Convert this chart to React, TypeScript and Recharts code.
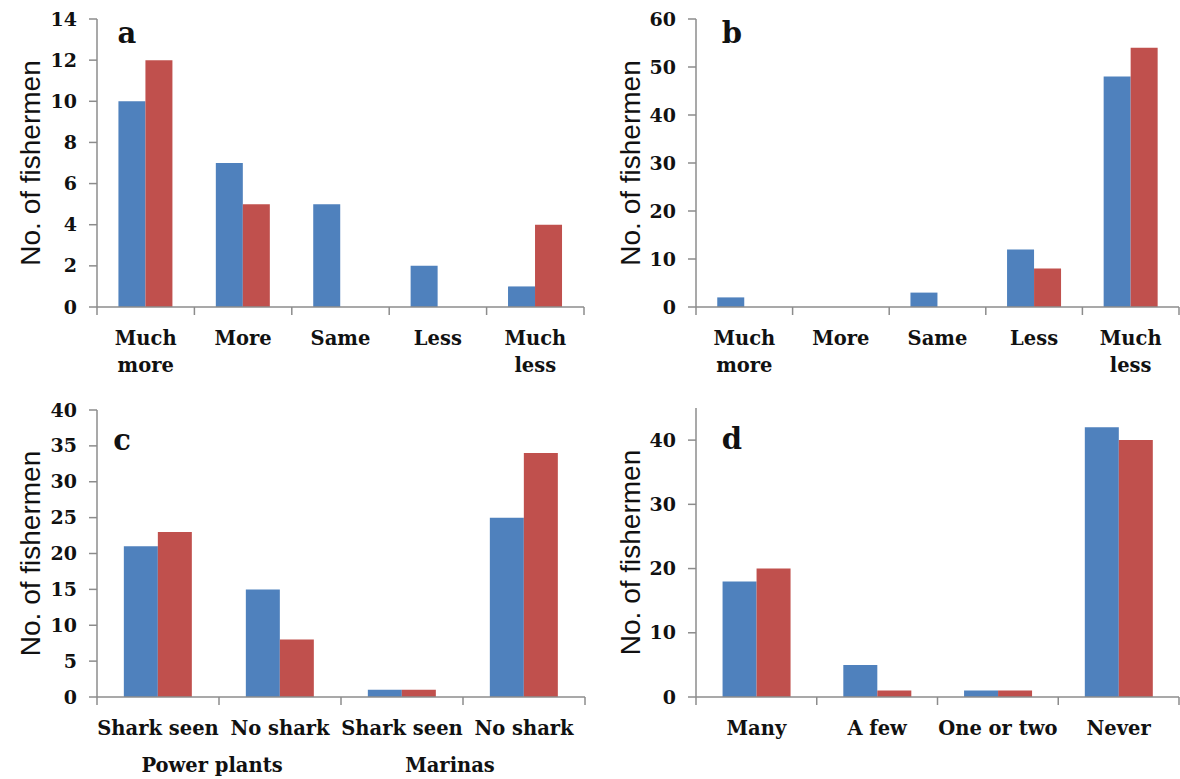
import React from 'react';
import { BarChart, Bar, XAxis, YAxis } from 'recharts';

const BLUE = '#4f81bd';
const RED = '#c0504d';
const AXIS = '#8c8c8c';
const INK = '#111111';
const SERIF = '"DejaVu Serif", serif';
const SANS = '"Liberation Sans", Arial, sans-serif';

// panel a
const CATS_A = ['Much\nmore', 'More', 'Same', 'Less', 'Much\nless'];
const BLUE_A = [10, 7, 5, 2, 1];
const RED_A = [12, 5, 0, 0, 4];
const TICKS_A = [0, 2, 4, 6, 8, 10, 12, 14];

// panel b
const CATS_B = ['Much\nmore', 'More', 'Same', 'Less', 'Much\nless'];
const BLUE_B = [2, 0, 3, 12, 48];
const RED_B = [0, 0, 0, 8, 54];
const TICKS_B = [0, 10, 20, 30, 40, 50, 60];

// panel c
const CATS_C = ['Shark seen', 'No shark', 'Shark seen', 'No shark'];
const BLUE_C = [21, 15, 1, 25];
const RED_C = [23, 8, 1, 34];
const TICKS_C = [0, 5, 10, 15, 20, 25, 30, 35, 40];
const GROUPS_C = ['Power plants', 'Marinas'];

// panel d
const CATS_D = ['Many', 'A few', 'One or two', 'Never'];
const BLUE_D = [18, 5, 1, 42];
const RED_D = [20, 1, 1, 40];
const TICKS_D = [0, 10, 20, 30, 40];

const Y_LABEL = 'No. of fishermen';

// category label plus the small tick marks on the category boundaries
const CategoryTick = (props: any) => {
  const { x, y, payload, index, visibleTicksCount } = props;
  const half = payload.offset || 0;
  const lines = String(payload.value).split('\n');
  const isLast = index === visibleTicksCount - 1;
  return (
    <g>
      <line x1={x - half} x2={x - half} y1={y} y2={y + 8} stroke={AXIS} strokeWidth={1.5} />
      {isLast && <line x1={x + half} x2={x + half} y1={y} y2={y + 8} stroke={AXIS} strokeWidth={1.5} />}
      <text x={x} y={y} textAnchor="middle" fill={INK} fontFamily={SERIF} fontWeight="bold" fontSize={19.5}>
        {lines.map((line, i) => (
          <tspan key={i} x={x} dy={i === 0 ? 38 : 27}>
            {line}
          </tspan>
        ))}
      </text>
    </g>
  );
};

const ValueTick = (props: any) => {
  const { x, y, payload } = props;
  return (
    <text
      x={x}
      y={y}
      dy={6.5}
      textAnchor="end"
      fill={INK}
      style={{ fontFamily: SERIF, fontWeight: 'bold', fontSize: '19px' }}
    >
      {payload.value}
    </text>
  );
};

interface PanelProps {
  left: number;
  top: number;
  width: number;
  height: number;
  margin: { top: number; right: number; bottom: number; left: number };
  yWidth: number;
  cats: string[];
  blue: number[];
  red: number[];
  yMax: number;
  ticks: number[];
  labelOffset: number;
  labelDx: number;
}

const Panel: React.FC<PanelProps> = (p) => {
  const data = p.cats.map((name, i) => ({ name, blue: p.blue[i], red: p.red[i] }));
  const axisLine = { stroke: AXIS, strokeWidth: 1.5 };
  return (
    <div style={{ position: 'absolute', left: p.left, top: p.top }}>
      <BarChart width={p.width} height={p.height} data={data} margin={p.margin} barCategoryGap="22%" barGap={0}>
        <XAxis
          dataKey="name"
          height={60}
          interval={0}
          tickLine={false}
          tickSize={0}
          tickMargin={0}
          axisLine={axisLine}
          tick={<CategoryTick />}
        />
        <YAxis
          type="number"
          domain={[0, p.yMax]}
          ticks={p.ticks}
          allowDataOverflow
          interval={0}
          width={p.yWidth}
          axisLine={axisLine}
          tickLine={axisLine}
          tickSize={8}
          tickMargin={12}
          tick={<ValueTick />}
          label={{
            value: Y_LABEL,
            angle: -90,
            position: 'insideLeft',
            offset: p.labelOffset,
            dx: p.labelDx,
            style: { textAnchor: 'middle', fontFamily: SANS, fontSize: 28, fill: INK },
          }}
        />
        <Bar dataKey="blue" fill={BLUE} isAnimationActive={false} />
        <Bar dataKey="red" fill={RED} isAnimationActive={false} />
      </BarChart>
    </div>
  );
};

const letterStyle = { fontFamily: SERIF, fontWeight: 'bold' as const, fontSize: 29, fill: INK };
const groupStyle = { fontFamily: SERIF, fontWeight: 'bold' as const, fontSize: 19.5, fill: INK };

export default function App() {
  return (
    <div style={{ position: 'absolute', left: 0, top: 0, width: 1180, height: 779, background: '#fff' }}>
      <Panel
        left={0}
        top={0}
        width={590}
        height={390}
        margin={{ top: 19, right: 6, bottom: 23, left: 0 }}
        yWidth={97}
        cats={CATS_A}
        blue={BLUE_A}
        red={RED_A}
        yMax={14}
        ticks={TICKS_A}
        labelOffset={25.5}
        labelDx={5}
      />
      <Panel
        left={590}
        top={0}
        width={590}
        height={390}
        margin={{ top: 19, right: 1, bottom: 23, left: 0 }}
        yWidth={106}
        cats={CATS_B}
        blue={BLUE_B}
        red={RED_B}
        yMax={60}
        ticks={TICKS_B}
        labelOffset={37.5}
        labelDx={3}
      />
      <Panel
        left={0}
        top={390}
        width={590}
        height={389}
        margin={{ top: 20, right: 5, bottom: 22, left: 0 }}
        yWidth={97}
        cats={CATS_C}
        blue={BLUE_C}
        red={RED_C}
        yMax={40}
        ticks={TICKS_C}
        labelOffset={25.5}
        labelDx={5}
      />
      <Panel
        left={590}
        top={390}
        width={590}
        height={389}
        margin={{ top: 18, right: 1, bottom: 22, left: 0 }}
        yWidth={106}
        cats={CATS_D}
        blue={BLUE_D}
        red={RED_D}
        yMax={45}
        ticks={TICKS_D}
        labelOffset={37.5}
        labelDx={2.5}
      />
      <svg width={1180} height={779} style={{ position: 'absolute', left: 0, top: 0, pointerEvents: 'none' }}>
        <text x={127} y={43} textAnchor="middle" {...letterStyle}>a</text>
        <text x={732} y={43} textAnchor="middle" {...letterStyle}>b</text>
        <text x={122} y={450} textAnchor="middle" {...letterStyle}>c</text>
        <text x={732} y={449} textAnchor="middle" {...letterStyle}>d</text>
        <text x={212} y={772} textAnchor="middle" {...groupStyle}>{GROUPS_C[0]}</text>
        <text x={450} y={772} textAnchor="middle" {...groupStyle}>{GROUPS_C[1]}</text>
      </svg>
    </div>
  );
}
